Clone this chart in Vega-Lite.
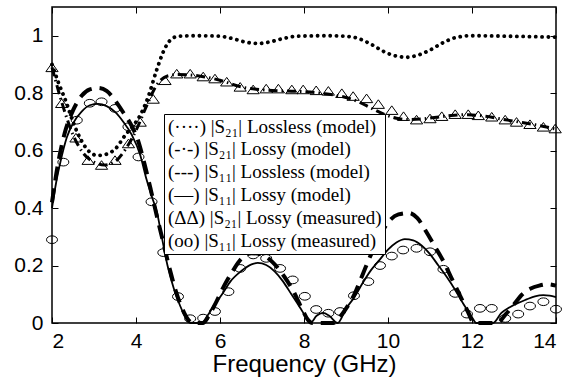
{
  "$schema": "https://vega.github.io/schema/vega-lite/v6.json",
  "width": 504,
  "height": 316,
  "autosize": {"type": "none"},
  "padding": {"left": 52, "top": 7, "right": 14, "bottom": 54},
  "background": "white",
  "config": {
    "view": {"stroke": "black", "strokeWidth": 1.5},
    "axis": {"grid": false, "domain": false, "tickColor": "black", "tickWidth": 1, "labelColor": "black", "titleColor": "black", "labelFont": "Liberation Sans", "titleFont": "Liberation Sans", "titleFontWeight": "normal"}
  },
  "data": {"values": [
    {"series": "S21 lossless model", "f": 2.0, "v": 0.90},
    {"series": "S21 lossless model", "f": 2.15, "v": 0.838},
    {"series": "S21 lossless model", "f": 2.35, "v": 0.764},
    {"series": "S21 lossless model", "f": 2.5, "v": 0.70},
    {"series": "S21 lossless model", "f": 2.7, "v": 0.635},
    {"series": "S21 lossless model", "f": 2.9, "v": 0.595},
    {"series": "S21 lossless model", "f": 3.1, "v": 0.583},
    {"series": "S21 lossless model", "f": 3.3, "v": 0.588},
    {"series": "S21 lossless model", "f": 3.5, "v": 0.605},
    {"series": "S21 lossless model", "f": 3.75, "v": 0.655},
    {"series": "S21 lossless model", "f": 3.95, "v": 0.69},
    {"series": "S21 lossless model", "f": 4.1, "v": 0.723},
    {"series": "S21 lossless model", "f": 4.29, "v": 0.787},
    {"series": "S21 lossless model", "f": 4.49, "v": 0.88},
    {"series": "S21 lossless model", "f": 4.65, "v": 0.944},
    {"series": "S21 lossless model", "f": 4.8, "v": 0.982},
    {"series": "S21 lossless model", "f": 5.0, "v": 0.998},
    {"series": "S21 lossless model", "f": 5.5, "v": 1.0},
    {"series": "S21 lossless model", "f": 6.0, "v": 0.998},
    {"series": "S21 lossless model", "f": 6.3, "v": 0.99},
    {"series": "S21 lossless model", "f": 6.6, "v": 0.978},
    {"series": "S21 lossless model", "f": 6.9, "v": 0.973},
    {"series": "S21 lossless model", "f": 7.2, "v": 0.979},
    {"series": "S21 lossless model", "f": 7.5, "v": 0.99},
    {"series": "S21 lossless model", "f": 7.8, "v": 0.998},
    {"series": "S21 lossless model", "f": 8.5, "v": 1.0},
    {"series": "S21 lossless model", "f": 9.0, "v": 0.998},
    {"series": "S21 lossless model", "f": 9.3, "v": 0.99},
    {"series": "S21 lossless model", "f": 9.6, "v": 0.97},
    {"series": "S21 lossless model", "f": 9.9, "v": 0.945},
    {"series": "S21 lossless model", "f": 10.2, "v": 0.929},
    {"series": "S21 lossless model", "f": 10.45, "v": 0.925},
    {"series": "S21 lossless model", "f": 10.7, "v": 0.932},
    {"series": "S21 lossless model", "f": 11.0, "v": 0.95},
    {"series": "S21 lossless model", "f": 11.3, "v": 0.975},
    {"series": "S21 lossless model", "f": 11.6, "v": 0.993},
    {"series": "S21 lossless model", "f": 12.0, "v": 1.0},
    {"series": "S21 lossless model", "f": 13.0, "v": 0.998},
    {"series": "S21 lossless model", "f": 14.0, "v": 0.995},

    {"series": "S21 lossy model", "f": 2.0, "v": 0.89},
    {"series": "S21 lossy model", "f": 2.25, "v": 0.76},
    {"series": "S21 lossy model", "f": 2.5, "v": 0.655},
    {"series": "S21 lossy model", "f": 2.75, "v": 0.59},
    {"series": "S21 lossy model", "f": 3.0, "v": 0.56},
    {"series": "S21 lossy model", "f": 3.25, "v": 0.55},
    {"series": "S21 lossy model", "f": 3.5, "v": 0.562},
    {"series": "S21 lossy model", "f": 3.75, "v": 0.605},
    {"series": "S21 lossy model", "f": 4.0, "v": 0.67},
    {"series": "S21 lossy model", "f": 4.25, "v": 0.755},
    {"series": "S21 lossy model", "f": 4.5, "v": 0.83},
    {"series": "S21 lossy model", "f": 4.75, "v": 0.86},
    {"series": "S21 lossy model", "f": 5.0, "v": 0.865},
    {"series": "S21 lossy model", "f": 5.5, "v": 0.86},
    {"series": "S21 lossy model", "f": 6.0, "v": 0.845},
    {"series": "S21 lossy model", "f": 6.5, "v": 0.822},
    {"series": "S21 lossy model", "f": 7.0, "v": 0.812},
    {"series": "S21 lossy model", "f": 7.5, "v": 0.808},
    {"series": "S21 lossy model", "f": 8.0, "v": 0.805},
    {"series": "S21 lossy model", "f": 8.5, "v": 0.798},
    {"series": "S21 lossy model", "f": 9.0, "v": 0.785},
    {"series": "S21 lossy model", "f": 9.3, "v": 0.77},
    {"series": "S21 lossy model", "f": 9.6, "v": 0.748},
    {"series": "S21 lossy model", "f": 9.9, "v": 0.727},
    {"series": "S21 lossy model", "f": 10.2, "v": 0.713},
    {"series": "S21 lossy model", "f": 10.5, "v": 0.708},
    {"series": "S21 lossy model", "f": 10.8, "v": 0.71},
    {"series": "S21 lossy model", "f": 11.1, "v": 0.715},
    {"series": "S21 lossy model", "f": 11.5, "v": 0.722},
    {"series": "S21 lossy model", "f": 11.9, "v": 0.725},
    {"series": "S21 lossy model", "f": 12.3, "v": 0.72},
    {"series": "S21 lossy model", "f": 12.7, "v": 0.71},
    {"series": "S21 lossy model", "f": 13.1, "v": 0.70},
    {"series": "S21 lossy model", "f": 13.5, "v": 0.69},
    {"series": "S21 lossy model", "f": 14.0, "v": 0.675},

    {"series": "S11 lossless model", "f": 2.0, "v": 0.42},
    {"series": "S11 lossless model", "f": 2.15, "v": 0.56},
    {"series": "S11 lossless model", "f": 2.3, "v": 0.66},
    {"series": "S11 lossless model", "f": 2.5, "v": 0.74},
    {"series": "S11 lossless model", "f": 2.7, "v": 0.79},
    {"series": "S11 lossless model", "f": 2.9, "v": 0.813},
    {"series": "S11 lossless model", "f": 3.1, "v": 0.818},
    {"series": "S11 lossless model", "f": 3.3, "v": 0.808},
    {"series": "S11 lossless model", "f": 3.5, "v": 0.775},
    {"series": "S11 lossless model", "f": 3.7, "v": 0.732},
    {"series": "S11 lossless model", "f": 3.9, "v": 0.685},
    {"series": "S11 lossless model", "f": 4.05, "v": 0.635},
    {"series": "S11 lossless model", "f": 4.2, "v": 0.555},
    {"series": "S11 lossless model", "f": 4.35, "v": 0.465},
    {"series": "S11 lossless model", "f": 4.5, "v": 0.37},
    {"series": "S11 lossless model", "f": 4.65, "v": 0.28},
    {"series": "S11 lossless model", "f": 4.8, "v": 0.19},
    {"series": "S11 lossless model", "f": 4.95, "v": 0.11},
    {"series": "S11 lossless model", "f": 5.1, "v": 0.05},
    {"series": "S11 lossless model", "f": 5.25, "v": 0.01},
    {"series": "S11 lossless model", "f": 5.35, "v": 0.0},
    {"series": "S11 lossless model", "f": 5.6, "v": 0.0},
    {"series": "S11 lossless model", "f": 5.75, "v": 0.03},
    {"series": "S11 lossless model", "f": 5.9, "v": 0.07},
    {"series": "S11 lossless model", "f": 6.1, "v": 0.13},
    {"series": "S11 lossless model", "f": 6.3, "v": 0.18},
    {"series": "S11 lossless model", "f": 6.5, "v": 0.222},
    {"series": "S11 lossless model", "f": 6.75, "v": 0.243},
    {"series": "S11 lossless model", "f": 7.0, "v": 0.238},
    {"series": "S11 lossless model", "f": 7.25, "v": 0.212},
    {"series": "S11 lossless model", "f": 7.5, "v": 0.168},
    {"series": "S11 lossless model", "f": 7.75, "v": 0.11},
    {"series": "S11 lossless model", "f": 7.95, "v": 0.05},
    {"series": "S11 lossless model", "f": 8.1, "v": 0.01},
    {"series": "S11 lossless model", "f": 8.2, "v": 0.0},
    {"series": "S11 lossless model", "f": 8.7, "v": 0.0},
    {"series": "S11 lossless model", "f": 8.85, "v": 0.02},
    {"series": "S11 lossless model", "f": 9.0, "v": 0.05},
    {"series": "S11 lossless model", "f": 9.2, "v": 0.10},
    {"series": "S11 lossless model", "f": 9.4, "v": 0.17},
    {"series": "S11 lossless model", "f": 9.6, "v": 0.24},
    {"series": "S11 lossless model", "f": 9.8, "v": 0.30},
    {"series": "S11 lossless model", "f": 10.0, "v": 0.35},
    {"series": "S11 lossless model", "f": 10.25, "v": 0.378},
    {"series": "S11 lossless model", "f": 10.5, "v": 0.383},
    {"series": "S11 lossless model", "f": 10.7, "v": 0.365},
    {"series": "S11 lossless model", "f": 10.9, "v": 0.32},
    {"series": "S11 lossless model", "f": 11.1, "v": 0.27},
    {"series": "S11 lossless model", "f": 11.3, "v": 0.22},
    {"series": "S11 lossless model", "f": 11.5, "v": 0.16},
    {"series": "S11 lossless model", "f": 11.7, "v": 0.10},
    {"series": "S11 lossless model", "f": 11.9, "v": 0.04},
    {"series": "S11 lossless model", "f": 12.05, "v": 0.0},
    {"series": "S11 lossless model", "f": 12.6, "v": 0.0},
    {"series": "S11 lossless model", "f": 12.8, "v": 0.03},
    {"series": "S11 lossless model", "f": 13.0, "v": 0.065},
    {"series": "S11 lossless model", "f": 13.2, "v": 0.10},
    {"series": "S11 lossless model", "f": 13.4, "v": 0.12},
    {"series": "S11 lossless model", "f": 13.6, "v": 0.13},
    {"series": "S11 lossless model", "f": 13.8, "v": 0.135},
    {"series": "S11 lossless model", "f": 14.0, "v": 0.13},

    {"series": "S11 lossy model", "f": 2.0, "v": 0.40},
    {"series": "S11 lossy model", "f": 2.1, "v": 0.49},
    {"series": "S11 lossy model", "f": 2.2, "v": 0.56},
    {"series": "S11 lossy model", "f": 2.35, "v": 0.645},
    {"series": "S11 lossy model", "f": 2.5, "v": 0.695},
    {"series": "S11 lossy model", "f": 2.7, "v": 0.735},
    {"series": "S11 lossy model", "f": 2.9, "v": 0.758},
    {"series": "S11 lossy model", "f": 3.1, "v": 0.763},
    {"series": "S11 lossy model", "f": 3.3, "v": 0.755},
    {"series": "S11 lossy model", "f": 3.5, "v": 0.735},
    {"series": "S11 lossy model", "f": 3.7, "v": 0.70},
    {"series": "S11 lossy model", "f": 3.9, "v": 0.655},
    {"series": "S11 lossy model", "f": 4.1, "v": 0.585},
    {"series": "S11 lossy model", "f": 4.25, "v": 0.50},
    {"series": "S11 lossy model", "f": 4.4, "v": 0.43},
    {"series": "S11 lossy model", "f": 4.5, "v": 0.385},
    {"series": "S11 lossy model", "f": 4.6, "v": 0.31},
    {"series": "S11 lossy model", "f": 4.75, "v": 0.20},
    {"series": "S11 lossy model", "f": 4.9, "v": 0.12},
    {"series": "S11 lossy model", "f": 5.05, "v": 0.06},
    {"series": "S11 lossy model", "f": 5.2, "v": 0.015},
    {"series": "S11 lossy model", "f": 5.3, "v": 0.0},
    {"series": "S11 lossy model", "f": 5.55, "v": 0.0},
    {"series": "S11 lossy model", "f": 5.7, "v": 0.025},
    {"series": "S11 lossy model", "f": 5.85, "v": 0.06},
    {"series": "S11 lossy model", "f": 6.05, "v": 0.10},
    {"series": "S11 lossy model", "f": 6.25, "v": 0.145},
    {"series": "S11 lossy model", "f": 6.5, "v": 0.18},
    {"series": "S11 lossy model", "f": 6.75, "v": 0.204},
    {"series": "S11 lossy model", "f": 6.9, "v": 0.209},
    {"series": "S11 lossy model", "f": 7.1, "v": 0.202},
    {"series": "S11 lossy model", "f": 7.3, "v": 0.18},
    {"series": "S11 lossy model", "f": 7.5, "v": 0.145},
    {"series": "S11 lossy model", "f": 7.7, "v": 0.10},
    {"series": "S11 lossy model", "f": 7.9, "v": 0.055},
    {"series": "S11 lossy model", "f": 8.05, "v": 0.02},
    {"series": "S11 lossy model", "f": 8.15, "v": 0.0},
    {"series": "S11 lossy model", "f": 8.3, "v": 0.025},
    {"series": "S11 lossy model", "f": 8.45, "v": 0.035},
    {"series": "S11 lossy model", "f": 8.6, "v": 0.025},
    {"series": "S11 lossy model", "f": 8.8, "v": 0.0},
    {"series": "S11 lossy model", "f": 9.0, "v": 0.05},
    {"series": "S11 lossy model", "f": 9.2, "v": 0.09},
    {"series": "S11 lossy model", "f": 9.4, "v": 0.14},
    {"series": "S11 lossy model", "f": 9.6, "v": 0.185},
    {"series": "S11 lossy model", "f": 9.8, "v": 0.22},
    {"series": "S11 lossy model", "f": 10.0, "v": 0.255},
    {"series": "S11 lossy model", "f": 10.2, "v": 0.28},
    {"series": "S11 lossy model", "f": 10.4, "v": 0.292},
    {"series": "S11 lossy model", "f": 10.6, "v": 0.288},
    {"series": "S11 lossy model", "f": 10.8, "v": 0.27},
    {"series": "S11 lossy model", "f": 11.0, "v": 0.24},
    {"series": "S11 lossy model", "f": 11.2, "v": 0.20},
    {"series": "S11 lossy model", "f": 11.4, "v": 0.16},
    {"series": "S11 lossy model", "f": 11.6, "v": 0.115},
    {"series": "S11 lossy model", "f": 11.8, "v": 0.065},
    {"series": "S11 lossy model", "f": 12.0, "v": 0.02},
    {"series": "S11 lossy model", "f": 12.1, "v": 0.0},
    {"series": "S11 lossy model", "f": 12.5, "v": 0.0},
    {"series": "S11 lossy model", "f": 12.7, "v": 0.035},
    {"series": "S11 lossy model", "f": 12.9, "v": 0.055},
    {"series": "S11 lossy model", "f": 13.1, "v": 0.07},
    {"series": "S11 lossy model", "f": 13.3, "v": 0.082},
    {"series": "S11 lossy model", "f": 13.5, "v": 0.093},
    {"series": "S11 lossy model", "f": 13.7, "v": 0.097},
    {"series": "S11 lossy model", "f": 13.85, "v": 0.095},
    {"series": "S11 lossy model", "f": 14.0, "v": 0.09},

    {"series": "S21 lossy measured", "f": 2.0, "v": 0.89},
    {"series": "S21 lossy measured", "f": 2.23, "v": 0.765},
    {"series": "S21 lossy measured", "f": 2.57, "v": 0.645},
    {"series": "S21 lossy measured", "f": 2.86, "v": 0.567},
    {"series": "S21 lossy measured", "f": 3.18, "v": 0.55},
    {"series": "S21 lossy measured", "f": 3.5, "v": 0.567},
    {"series": "S21 lossy measured", "f": 3.82, "v": 0.625},
    {"series": "S21 lossy measured", "f": 4.1, "v": 0.70},
    {"series": "S21 lossy measured", "f": 4.41, "v": 0.78},
    {"series": "S21 lossy measured", "f": 4.69, "v": 0.845},
    {"series": "S21 lossy measured", "f": 4.97, "v": 0.868},
    {"series": "S21 lossy measured", "f": 5.29, "v": 0.868},
    {"series": "S21 lossy measured", "f": 5.6, "v": 0.858},
    {"series": "S21 lossy measured", "f": 5.88, "v": 0.851},
    {"series": "S21 lossy measured", "f": 6.16, "v": 0.84},
    {"series": "S21 lossy measured", "f": 6.48, "v": 0.822},
    {"series": "S21 lossy measured", "f": 6.79, "v": 0.813},
    {"series": "S21 lossy measured", "f": 7.1, "v": 0.816},
    {"series": "S21 lossy measured", "f": 7.39, "v": 0.816},
    {"series": "S21 lossy measured", "f": 7.71, "v": 0.813},
    {"series": "S21 lossy measured", "f": 7.98, "v": 0.813},
    {"series": "S21 lossy measured", "f": 8.29, "v": 0.81},
    {"series": "S21 lossy measured", "f": 8.58, "v": 0.808},
    {"series": "S21 lossy measured", "f": 8.9, "v": 0.80},
    {"series": "S21 lossy measured", "f": 9.17, "v": 0.79},
    {"series": "S21 lossy measured", "f": 9.49, "v": 0.782},
    {"series": "S21 lossy measured", "f": 9.77, "v": 0.762},
    {"series": "S21 lossy measured", "f": 10.09, "v": 0.741},
    {"series": "S21 lossy measured", "f": 10.37, "v": 0.72},
    {"series": "S21 lossy measured", "f": 10.68, "v": 0.708},
    {"series": "S21 lossy measured", "f": 11.0, "v": 0.712},
    {"series": "S21 lossy measured", "f": 11.28, "v": 0.72},
    {"series": "S21 lossy measured", "f": 11.6, "v": 0.727},
    {"series": "S21 lossy measured", "f": 11.91, "v": 0.727},
    {"series": "S21 lossy measured", "f": 12.15, "v": 0.723},
    {"series": "S21 lossy measured", "f": 12.47, "v": 0.718},
    {"series": "S21 lossy measured", "f": 12.79, "v": 0.708},
    {"series": "S21 lossy measured", "f": 13.06, "v": 0.70},
    {"series": "S21 lossy measured", "f": 13.38, "v": 0.692},
    {"series": "S21 lossy measured", "f": 13.7, "v": 0.683},
    {"series": "S21 lossy measured", "f": 13.98, "v": 0.677},

    {"series": "S11 lossy measured", "f": 2.0, "v": 0.29},
    {"series": "S11 lossy measured", "f": 2.27, "v": 0.56},
    {"series": "S11 lossy measured", "f": 2.59, "v": 0.706},
    {"series": "S11 lossy measured", "f": 2.9, "v": 0.765},
    {"series": "S11 lossy measured", "f": 3.18, "v": 0.77},
    {"series": "S11 lossy measured", "f": 3.5, "v": 0.747},
    {"series": "S11 lossy measured", "f": 3.82, "v": 0.683},
    {"series": "S11 lossy measured", "f": 4.06, "v": 0.578},
    {"series": "S11 lossy measured", "f": 4.37, "v": 0.422},
    {"series": "S11 lossy measured", "f": 4.65, "v": 0.245},
    {"series": "S11 lossy measured", "f": 5.0, "v": 0.092},
    {"series": "S11 lossy measured", "f": 5.29, "v": 0.015},
    {"series": "S11 lossy measured", "f": 5.6, "v": 0.017},
    {"series": "S11 lossy measured", "f": 5.88, "v": 0.04},
    {"series": "S11 lossy measured", "f": 6.2, "v": 0.109},
    {"series": "S11 lossy measured", "f": 6.48, "v": 0.19},
    {"series": "S11 lossy measured", "f": 6.79, "v": 0.237},
    {"series": "S11 lossy measured", "f": 7.1, "v": 0.225},
    {"series": "S11 lossy measured", "f": 7.43, "v": 0.19},
    {"series": "S11 lossy measured", "f": 7.73, "v": 0.15},
    {"series": "S11 lossy measured", "f": 8.02, "v": 0.093},
    {"series": "S11 lossy measured", "f": 8.29, "v": 0.047},
    {"series": "S11 lossy measured", "f": 8.58, "v": 0.034},
    {"series": "S11 lossy measured", "f": 8.86, "v": 0.04},
    {"series": "S11 lossy measured", "f": 9.19, "v": 0.095},
    {"series": "S11 lossy measured", "f": 9.53, "v": 0.144},
    {"series": "S11 lossy measured", "f": 9.81, "v": 0.20},
    {"series": "S11 lossy measured", "f": 10.09, "v": 0.233},
    {"series": "S11 lossy measured", "f": 10.36, "v": 0.254},
    {"series": "S11 lossy measured", "f": 10.68, "v": 0.26},
    {"series": "S11 lossy measured", "f": 11.0, "v": 0.248},
    {"series": "S11 lossy measured", "f": 11.32, "v": 0.187},
    {"series": "S11 lossy measured", "f": 11.6, "v": 0.103},
    {"series": "S11 lossy measured", "f": 11.88, "v": 0.031},
    {"series": "S11 lossy measured", "f": 12.19, "v": 0.051},
    {"series": "S11 lossy measured", "f": 12.47, "v": 0.051},
    {"series": "S11 lossy measured", "f": 12.79, "v": 0.016},
    {"series": "S11 lossy measured", "f": 13.1, "v": 0.031},
    {"series": "S11 lossy measured", "f": 13.38, "v": 0.059},
    {"series": "S11 lossy measured", "f": 13.7, "v": 0.074},
    {"series": "S11 lossy measured", "f": 14.0, "v": 0.048}
  ]},
  "layer": [
    {
      "transform": [{"filter": "datum.series == 'S21 lossless model'"}],
      "mark": {"type": "line", "interpolate": "monotone", "strokeWidth": 3.8, "strokeDash": [0.1, 6.2], "strokeCap": "round"},
      "encoding": {
        "x": {"field": "f", "type": "quantitative", "scale": {"domain": [2, 14], "nice": false, "zero": false},
              "axis": {"orient": "bottom", "values": [2, 4, 6, 8, 10, 12, 14], "tickSize": -6, "labelPadding": 13, "labelFontSize": 21, "title": "Frequency (GHz)", "titleFontSize": 24, "titlePadding": 1}},
        "y": {"field": "v", "type": "quantitative", "scale": {"domain": [0, 1.1], "nice": false, "zero": false},
              "axis": {"orient": "left", "values": [0, 0.2, 0.4, 0.6, 0.8, 1], "format": "~g", "tickSize": -6, "labelPadding": 15, "labelFontSize": 21, "title": null}},
        "color": {"field": "series", "type": "nominal",
          "scale": {"domain": ["S21 lossless model", "S21 lossy model", "S11 lossless model", "S11 lossy model", "S21 lossy measured", "S11 lossy measured"], "range": ["black", "black", "black", "black", "black", "black"]},
          "legend": {"orient": "none", "legendX": 112, "legendY": 107, "title": null, "fillColor": "white", "strokeColor": "black", "padding": 3, "rowPadding": 2.8, "symbolSize": 0, "symbolOpacity": 0, "symbolStrokeWidth": 0, "labelOffset": -18, "labelFont": "Liberation Serif", "labelFontSize": 19, "labelColor": "black", "labelLimit": 400,
            "labelExpr": "datum.label == 'S21 lossless model' ? '(····) |S₂₁| Lossless (model)' : datum.label == 'S21 lossy model' ? '(-·-) |S₂₁| Lossy (model)' : datum.label == 'S11 lossless model' ? '(---) |S₁₁| Lossless (model)' : datum.label == 'S11 lossy model' ? '(—) |S₁₁| Lossy (model)' : datum.label == 'S21 lossy measured' ? '(ΔΔ) |S₂₁| Lossy (measured)' : '(oo) |S₁₁| Lossy (measured)'"}}
      }
    },
    {
      "transform": [{"filter": "datum.series == 'S21 lossy model'"}],
      "mark": {"type": "line", "interpolate": "monotone", "strokeWidth": 3, "strokeDash": [9, 4, 1.5, 4]},
      "encoding": {
        "x": {"field": "f", "type": "quantitative", "axis": {"orient": "top", "values": [2, 4, 6, 8, 10, 12, 14], "tickSize": -6, "labels": false, "title": null}},
        "y": {"field": "v", "type": "quantitative", "axis": {"orient": "right", "values": [0, 0.2, 0.4, 0.6, 0.8, 1], "tickSize": -6, "labels": false, "title": null}},
        "color": {"field": "series", "type": "nominal"}
      }
    },
    {
      "transform": [{"filter": "datum.series == 'S11 lossless model'"}],
      "mark": {"type": "line", "interpolate": "monotone", "strokeWidth": 4, "strokeDash": [14, 8]},
      "encoding": {
        "x": {"field": "f", "type": "quantitative", "axis": null},
        "y": {"field": "v", "type": "quantitative", "axis": null},
        "color": {"field": "series", "type": "nominal"}
      }
    },
    {
      "transform": [{"filter": "datum.series == 'S11 lossy model'"}],
      "mark": {"type": "line", "interpolate": "monotone", "strokeWidth": 1.8},
      "encoding": {
        "x": {"field": "f", "type": "quantitative", "axis": null},
        "y": {"field": "v", "type": "quantitative", "axis": null},
        "color": {"field": "series", "type": "nominal"}
      }
    },
    {
      "transform": [{"filter": "datum.series == 'S21 lossy measured'"}],
      "mark": {"type": "point", "filled": false, "shape": "M 0 -0.7 L 1 0.7 L -1 0.7 Z", "size": 150, "strokeWidth": 1, "opacity": 1},
      "encoding": {
        "x": {"field": "f", "type": "quantitative", "axis": null},
        "y": {"field": "v", "type": "quantitative", "axis": null},
        "color": {"field": "series", "type": "nominal"}
      }
    },
    {
      "transform": [{"filter": "datum.series == 'S11 lossy measured'"}],
      "mark": {"type": "point", "filled": false, "shape": "M -1 0 A 1 0.7 0 1 1 1 0 A 1 0.7 0 1 1 -1 0 Z", "size": 121, "strokeWidth": 1, "opacity": 1},
      "encoding": {
        "x": {"field": "f", "type": "quantitative", "axis": null},
        "y": {"field": "v", "type": "quantitative", "axis": null},
        "color": {"field": "series", "type": "nominal"}
      }
    }
  ],
  "resolve": {"axis": {"x": "independent", "y": "independent"}}
}
